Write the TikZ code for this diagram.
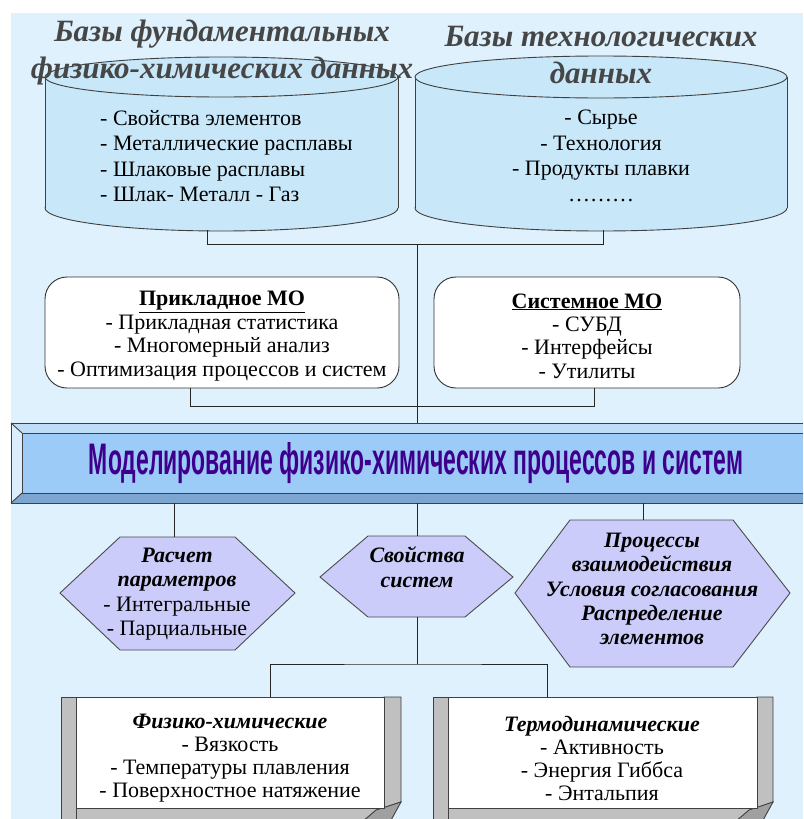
\documentclass[tikz,border=0pt]{standalone}
\usepackage{fontspec}
\usepackage{graphicx}
\setmainfont{Liberation Serif}
\newfontfamily\banfont{Liberation Sans}
\usetikzlibrary{calc}

\definecolor{bgblue}{RGB}{222,241,253}
\definecolor{cylblue}{RGB}{200,232,250}
\definecolor{hexlav}{RGB}{204,204,250}
\definecolor{bantop}{RGB}{192,221,247}
\definecolor{banleft}{RGB}{220,238,253}
\definecolor{banbot}{RGB}{124,166,208}
\definecolor{banface}{RGB}{156,203,248}
\definecolor{bantext}{RGB}{62,0,140}
\definecolor{scrollgray}{RGB}{192,192,192}
\definecolor{folddark}{RGB}{160,160,160}
\definecolor{titlegray}{RGB}{70,70,70}

\begin{document}
\begin{tikzpicture}[x=1pt,y=-1pt]
\tikzset{
  conn/.style={draw=black!85, line width=0.9pt},
  outl/.style={draw=black!75, line width=0.9pt},
  txt/.style={font=\fontsize{22}{25.5}\selectfont, align=center, inner sep=0pt},
  boxtxt/.style={font=\fontsize{22}{23.4}\selectfont, align=center, inner sep=0pt},
  hextxt/.style={font=\fontsize{22}{24.5}\selectfont, align=center, inner sep=0pt},
  ttl/.style={font=\fontsize{31}{37}\selectfont\bfseries\itshape, text=titlegray, align=center, inner sep=0pt},
  rbox/.style={draw=black!80, line width=0.9pt, fill=white, rounded corners=22pt, inner sep=0pt},
  hexshape/.style={fill=hexlav, draw=black!70, line width=0.9pt},
  blank/.style={inner sep=0pt, minimum size=0pt}
}
\useasboundingbox (0,0) rectangle (803,819);
\fill[white] (0,0) rectangle (803,819);
\fill[bgblue] (11,13) rectangle (803,819);

% ---------- cylinders ----------
% left
\filldraw[fill=cylblue, outl] (221.5,208) ellipse [x radius=176.5, y radius=23];
\fill[cylblue] (45,77) rectangle (398,208);
\draw[outl] (45,77) -- (45,208) (398,77) -- (398,208);
\filldraw[fill=cylblue, outl] (221.5,77) ellipse [x radius=176.5, y radius=20];
% right
\filldraw[fill=cylblue, outl] (601,208) ellipse [x radius=186, y radius=23];
\fill[cylblue] (415,77) rectangle (787,208);
\draw[outl] (415,77) -- (415,208) (787,77) -- (787,208);
\filldraw[fill=cylblue, outl] (601,77) ellipse [x radius=186, y radius=21];

\node[txt, align=left, anchor=west] (cylLtext) at (100,156)
  {- Свойства элементов\\- Металлические расплавы\\- Шлаковые расплавы\\- Шлак- Металл - Газ};
\node[txt] (cylRtext) at (601,156)
  {- Сырье\\- Технология\\- Продукты плавки\\………};

\node[ttl] (ttlL) at (222,53) {Базы фундаментальных\\физико-химических данных};
\node[ttl] (ttlR) at (601,55) {Базы технологических\\данных};

\coordinate (cylLb) at (207,230);
\coordinate (cylRb) at (603,230);
\coordinate (jTop) at (417,244);

% ---------- rounded boxes ----------
\node[rbox, minimum width=354, minimum height=111] (prik) at (222,332.5) {};
\node[boxtxt] (prikT) at (222,336)
  {\underline{\textbf{Прикладное МО}}\\- Прикладная статистика\\- Многомерный анализ\\- Оптимизация процессов и систем};
\node[rbox, minimum width=306, minimum height=111] (sys) at (587,332.5) {};
\node[boxtxt] (sysT) at (587,336)
  {\underline{\textbf{Системное МО}}\\- СУБД\\- Интерфейсы\\- Утилиты};

% ---------- banner ----------
\node[blank, minimum width=792, minimum height=80] (banner) at (407,463) {};
\fill[bantop] (11,423) -- (803,423) -- (803,433) -- (22,433) -- cycle;
\fill[banleft] (11,423) -- (22,433) -- (22,493) -- (11,503) -- cycle;
\fill[banbot] (11,503) -- (22,493) -- (803,493) -- (803,503) -- cycle;
\fill[banface] (22,433) rectangle (803,493);
\draw[outl] (803,423) -- (11,423) -- (11,503) -- (803,503);
\draw[outl] (803,433) -- (22,433) -- (22,493) -- (803,493);
\draw[outl] (11,423) -- (22,433) (11,503) -- (22,493);
\node[font=\banfont\bfseries, text=bantext, anchor=base, inner sep=0pt] (bantxt) at (416,474)
  {\resizebox{654pt}{32pt}{Моделирование физико-химических процессов и систем}};

% ---------- hexagons ----------
\draw[hexshape] (60,593) -- (120,537) -- (235,537) -- (295,593) -- (235,650) -- (120,650) -- cycle;
\draw[hexshape] (320,577) -- (368,536) -- (465,536) -- (513,577) -- (465,617) -- (368,617) -- cycle;
\draw[hexshape] (515,593) -- (570,520) -- (733,520) -- (790,593) -- (733,667) -- (570,667) -- cycle;
\coordinate (hex1n) at (174,537);
\coordinate (hex2n) at (417,536);
\coordinate (hex2s) at (417,617);
\coordinate (hex3n) at (643,520);

\node[hextxt] (hex1T) at (177,594)
  {\textbf{\textit{Расчет}}\\\textbf{\textit{параметров}}\\- Интегральные\\- Парциальные};
\node[hextxt, font=\fontsize{22}{25}\selectfont\bfseries\itshape] (hex2T) at (417,567)
  {Свойства\\систем};
\node[hextxt, font=\fontsize{22}{24.2}\selectfont\bfseries\itshape] (hex3T) at (652,589)
  {Процессы\\взаимодействия\\Условия согласования\\Распределение\\элементов};

% ---------- scroll boxes ----------
% box 1
\filldraw[fill=scrollgray, outl] (61,697) rectangle (76,830);
\filldraw[fill=scrollgray, outl] (76,808) rectangle (384,830);
\filldraw[fill=scrollgray, outl] (384,697) -- (401,697) -- (401,802) -- (384,808) -- cycle;
\filldraw[fill=folddark, outl] (362,822) -- (376,810) -- (401,802) -- (390,822) -- cycle;
\filldraw[fill=white, outl] (76,697) rectangle (384,808);
\node[blank, minimum width=340, minimum height=122] (phys) at (231,758) {};
\node[boxtxt, font=\fontsize{22}{23}\selectfont] (physT) at (230,758)
  {\textbf{\textit{Физико-химические}}\\- Вязкость\\- Температуры плавления\\- Поверхностное натяжение};
% box 2
\filldraw[fill=scrollgray, outl] (433,697) rectangle (448,830);
\filldraw[fill=scrollgray, outl] (448,808) rectangle (757,830);
\filldraw[fill=scrollgray, outl] (757,697) -- (773,697) -- (773,802) -- (757,808) -- cycle;
\filldraw[fill=folddark, outl] (735,822) -- (749,810) -- (773,802) -- (762,822) -- cycle;
\filldraw[fill=white, outl] (448,697) rectangle (757,808);
\node[blank, minimum width=340, minimum height=122] (thermo) at (603,758) {};
\node[boxtxt, font=\fontsize{22}{23}\selectfont] (thermoT) at (602,758)
  {\textbf{\textit{Термодинамические}}\\- Активность\\- Энергия Гиббса\\- Энтальпия};

% ---------- connectors ----------
\draw[conn] (cylLb) -- (cylLb |- jTop) -- (cylRb |- jTop) -- (cylRb);
\draw[conn] (jTop) -- (jTop |- banner.north);
\draw[conn] ([xshift=-32pt]prik.south) -- ++(0,18) -| ([xshift=7pt]sys.south);
\draw[conn] (hex1n |- banner.south) -- (hex1n);
\draw[conn] (hex2n |- banner.south) -- (hex2n);
\draw[conn] (hex3n |- banner.south) -- (hex3n);
\coordinate (jBot) at (417,664);
\draw[conn] (hex2s) -- (jBot);
\draw[conn] ([xshift=39pt]phys.north) |- (jBot) -| ([xshift=-56pt]thermo.north);
\end{tikzpicture}
\end{document}
